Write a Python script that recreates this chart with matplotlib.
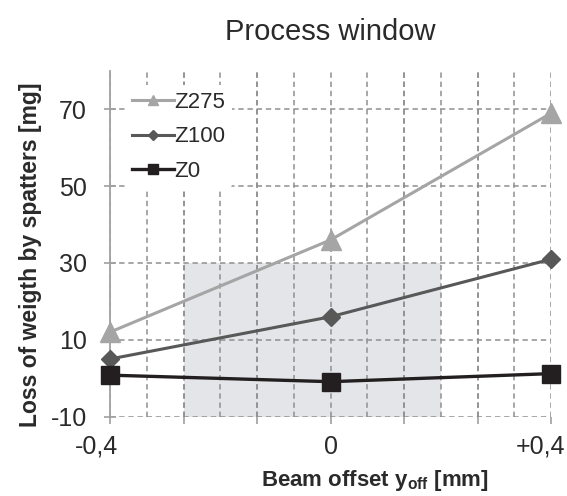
import numpy as np
from matplotlib import pyplot as plt
from matplotlib.ticker import FixedLocator
from matplotlib.transforms import ScaledTranslation

plt.rcParams['font.family'] = ['Liberation Sans', 'DejaVu Sans']
plt.rcParams['mathtext.fontset'] = 'custom'
plt.rcParams['mathtext.bf'] = 'Liberation Sans:bold'
plt.rcParams['axes.unicode_minus'] = False

# beam offset values and spatter loss per series
offsets = [-0.4, 0.0, 0.4]
z275 = [12, 36, 69]
z100 = [5, 16, 31]
z0 = [0.8, -0.9, 1.2]

yticks = [-10, 10, 30, 50, 70]
xtick_pos = [-0.4, -0.2667, -0.1333, 0.0, 0.1333, 0.2667, 0.4]
xtick_labels = ['-0,4', '', '', '0', '', '', '+0,4']

# process window shaded area
win_x = (-0.2667, 0.2)
win_y = (-10, 30)

fig = plt.figure(figsize=(5.67, 4.96), dpi=100)
ax = fig.add_axes([0.194, 0.16, 0.778, 0.697])

ax.fill_between(win_x, win_y[0], win_y[1], color='#e4e5e9', zorder=0, lw=0)

ax.plot(offsets, z275, color='#a5a5a5', lw=2.2, marker='^', ms=14, label='Z275', clip_on=False, zorder=3)
ax.plot(offsets, z100, color='#585858', lw=2.2, marker='D', ms=9, label='Z100', clip_on=False, zorder=4)
ax.plot(offsets, z0, color='#231f20', lw=2.4, marker='s', ms=13, label='Z0', clip_on=False, zorder=5)

ax.set_xlim(-0.4, 0.4)
ax.set_ylim(-10, 80)

ax.xaxis.set_major_locator(FixedLocator(xtick_pos))
ax.set_xticklabels(xtick_labels)
ax.xaxis.set_minor_locator(FixedLocator(np.linspace(-0.4, 0.4, 13)))
ax.set_yticks(yticks)

grid_kw = dict(color='#8f8f8f', linestyle=(0, (3.5, 2.5)), linewidth=1.1)
ax.grid(True, which='both', axis='x', **grid_kw)
ax.grid(True, which='major', axis='y', **grid_kw)
ax.set_axisbelow(True)

for s in ['top', 'right', 'bottom']:
    ax.spines[s].set_visible(False)
ax.spines['left'].set_color('#a0a0a0')
ax.spines['left'].set_linewidth(1.3)

ax.tick_params(axis='y', direction='inout', length=9, width=1.2, color='#a0a0a0',
               labelsize=18, labelcolor='#2a2a2a', pad=12)
ax.tick_params(axis='x', which='major', direction='out', length=5, width=1.2, color='#a0a0a0',
               labelsize=18, labelcolor='#2a2a2a', pad=8)
ax.tick_params(axis='x', which='minor', length=0)

# end labels sit a bit to the left of their ticks in the original
labels = ax.get_xticklabels()
labels[0].set_transform(labels[0].get_transform() + ScaledTranslation(-13 / 100, 0, fig.dpi_scale_trans))
labels[-1].set_transform(labels[-1].get_transform() + ScaledTranslation(-11 / 100, 0, fig.dpi_scale_trans))

ax.set_title('Process window', fontsize=21, color='#2a2a2a', pad=22)
ax.set_ylabel('Loss of weigth by spatters [mg]', fontsize=16.5, fontweight='bold', color='#2a2a2a')
ax.yaxis.set_label_coords(-0.154, 0.467)
ax.set_xlabel(r'Beam offset y$_{\mathbf{off}}$ [mm]', fontsize=16, fontweight='bold', color='#2a2a2a')
ax.xaxis.set_label_coords(0.6, -0.15)

leg = ax.legend(loc='upper left', bbox_to_anchor=(0.01, 0.99), fontsize=16, frameon=True,
                framealpha=1, edgecolor='none', facecolor='white', markerscale=0.55,
                handlelength=1.9, handletextpad=0.0, labelspacing=0.6, borderpad=0.3)
for t in leg.get_texts():
    t.set_color('#2a2a2a')

fig.savefig('out.png', dpi=100)
